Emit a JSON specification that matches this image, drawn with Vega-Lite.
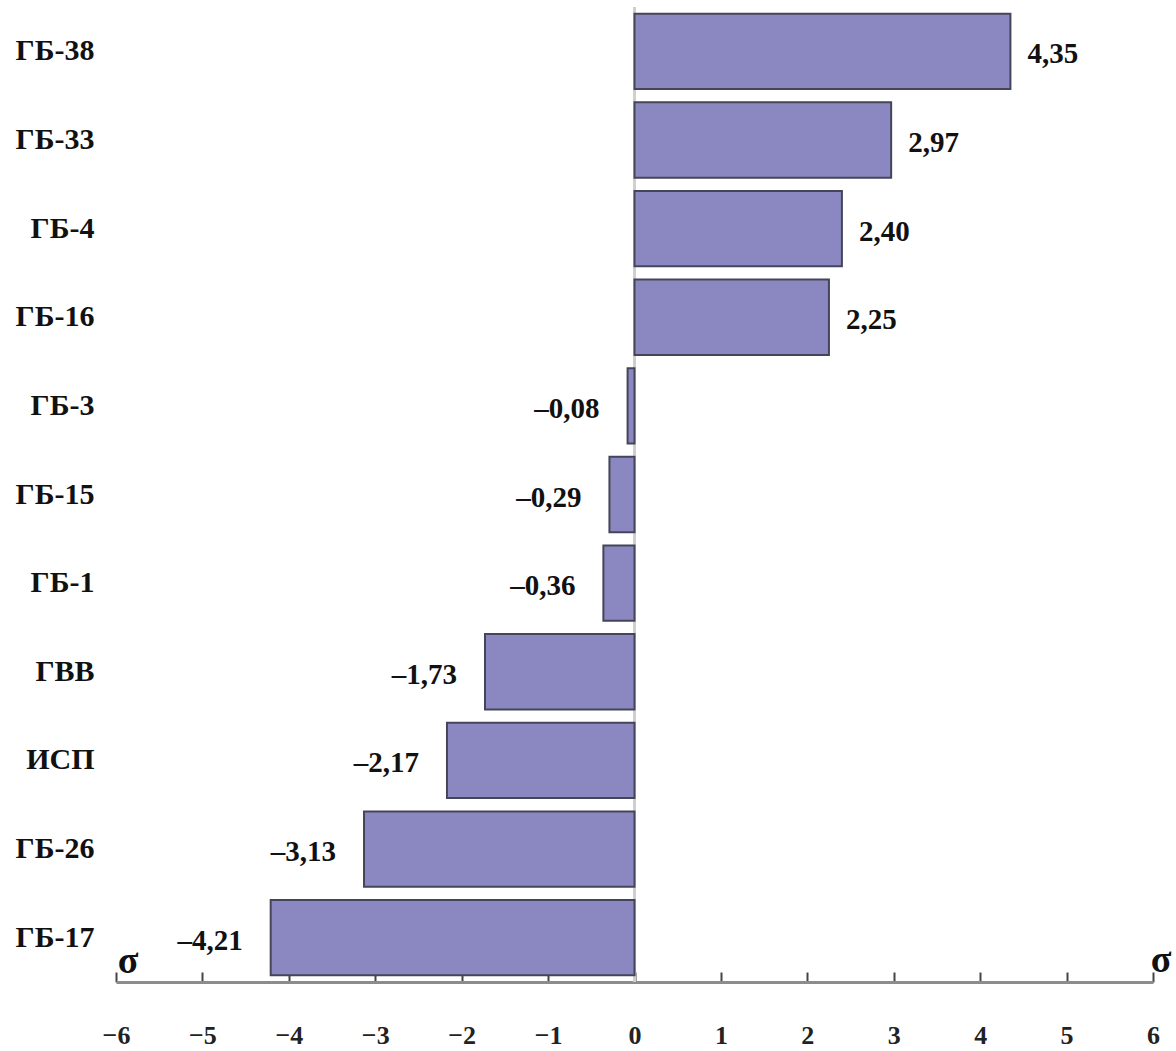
{
  "$schema": "https://vega.github.io/schema/vega-lite/v6.json",
  "autosize": "none",
  "width": 1037,
  "height": 975,
  "padding": {"left": 116, "top": 7, "right": 23, "bottom": 69},
  "background": "white",
  "config": {"view": {"stroke": null}},
  "datasets": {
    "bars": [
      {"name": "ГБ-38", "value": 4.35, "label": "4,35"},
      {"name": "ГБ-33", "value": 2.97, "label": "2,97"},
      {"name": "ГБ-4", "value": 2.40, "label": "2,40"},
      {"name": "ГБ-16", "value": 2.25, "label": "2,25"},
      {"name": "ГБ-3", "value": -0.08, "label": "–0,08"},
      {"name": "ГБ-15", "value": -0.29, "label": "–0,29"},
      {"name": "ГБ-1", "value": -0.36, "label": "–0,36"},
      {"name": "ГВВ", "value": -1.73, "label": "–1,73"},
      {"name": "ИСП", "value": -2.17, "label": "–2,17"},
      {"name": "ГБ-26", "value": -3.13, "label": "–3,13"},
      {"name": "ГБ-17", "value": -4.21, "label": "–4,21"}
    ],
    "sigma": [
      {"pos": -6, "name": "ГБ-17", "s": "σ", "side": "left"},
      {"pos": 6, "name": "ГБ-17", "s": "σ", "side": "right"}
    ]
  },
  "layer": [
    {
      "data": {"name": "bars"},
      "mark": {"type": "rule", "color": "#cfcfcf", "strokeWidth": 3},
      "encoding": {"x": {"datum": 0, "type": "quantitative"}}
    },
    {
      "data": {"name": "bars"},
      "mark": {"type": "bar", "fill": "#8b88c1", "stroke": "#45455a", "strokeWidth": 2},
      "encoding": {
        "y": {
          "field": "name", "type": "nominal", "sort": null,
          "scale": {"paddingInner": 0.15, "paddingOuter": 0.075},
          "axis": {
            "title": null, "domain": false, "ticks": false,
            "labelFont": "Liberation Serif", "labelFontWeight": "bold",
            "labelFontSize": 30, "labelColor": "#111", "labelPadding": 22
          }
        },
        "x": {
          "field": "value", "type": "quantitative",
          "scale": {"domain": [-6, 6], "nice": false, "zero": false},
          "axis": {
            "title": null, "grid": false, "format": "d",
            "values": [-6, -5, -4, -3, -2, -1, 0, 1, 2, 3, 4, 5, 6],
            "domainColor": "#8c8c8c", "domainWidth": 3,
            "tickColor": "#444", "tickWidth": 2, "tickSize": -10,
            "labelFont": "Liberation Sans Narrow", "labelFontWeight": "bold",
            "labelFontSize": 26, "labelColor": "#222", "labelPadding": 50,
            "labelFlush": false
          }
        }
      }
    },
    {
      "data": {"name": "bars"},
      "transform": [{"filter": "datum.value >= 0"}],
      "mark": {"type": "text", "align": "left", "dx": 17, "dy": 3, "font": "Liberation Serif", "fontWeight": "bold", "fontSize": 29, "color": "#111"},
      "encoding": {
        "y": {"field": "name", "type": "nominal", "sort": null},
        "x": {"field": "value", "type": "quantitative"},
        "text": {"field": "label"}
      }
    },
    {
      "data": {"name": "bars"},
      "transform": [{"filter": "datum.value < 0"}],
      "mark": {"type": "text", "align": "right", "dx": -28, "dy": 3, "font": "Liberation Serif", "fontWeight": "bold", "fontSize": 29, "color": "#111"},
      "encoding": {
        "y": {"field": "name", "type": "nominal", "sort": null},
        "x": {"field": "value", "type": "quantitative"},
        "text": {"field": "label"}
      }
    },
    {
      "data": {"name": "sigma"},
      "transform": [{"filter": "datum.side == 'left'"}],
      "mark": {"type": "text", "align": "center", "dx": 12, "dy": 24, "font": "Liberation Serif", "fontWeight": "bold", "fontSize": 38, "color": "#111"},
      "encoding": {
        "y": {"field": "name", "type": "nominal", "sort": null},
        "x": {"field": "pos", "type": "quantitative"},
        "text": {"field": "s"}
      }
    },
    {
      "data": {"name": "sigma"},
      "transform": [{"filter": "datum.side == 'right'"}],
      "mark": {"type": "text", "align": "center", "dx": 8, "dy": 23, "font": "Liberation Serif", "fontWeight": "bold", "fontSize": 38, "color": "#111"},
      "encoding": {
        "y": {"field": "name", "type": "nominal", "sort": null},
        "x": {"field": "pos", "type": "quantitative"},
        "text": {"field": "s"}
      }
    }
  ]
}
